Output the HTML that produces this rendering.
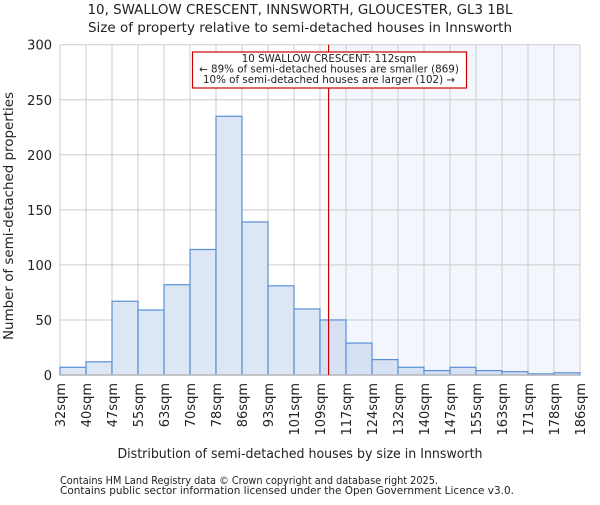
<!DOCTYPE html>
<html><head><meta charset="utf-8"><style>
body{margin:0;background:#fff}
text{font-family:"DejaVu Sans","Liberation Sans",sans-serif;fill:#222}
</style></head><body>
<svg id="chart" width="600" height="500" xmlns="http://www.w3.org/2000/svg">
<text x="300" y="14" text-anchor="middle" font-size="13" textLength="425" lengthAdjust="spacingAndGlyphs">10, SWALLOW CRESCENT, INNSWORTH, GLOUCESTER, GL3 1BL</text>
<text x="300" y="32" text-anchor="middle" font-size="13" textLength="424" lengthAdjust="spacingAndGlyphs">Size of property relative to semi-detached houses in Innsworth</text>
<g id="plot"></g>
<text x="300" y="458" text-anchor="middle" font-size="13" textLength="365" lengthAdjust="spacingAndGlyphs">Distribution of semi-detached houses by size in Innsworth</text>
<text transform="translate(13,216) rotate(-90)" text-anchor="middle" font-size="13" textLength="248" lengthAdjust="spacingAndGlyphs">Number of semi-detached properties</text>
<text x="60" y="484" font-size="10.5" fill="#555" textLength="378" lengthAdjust="spacingAndGlyphs">Contains HM Land Registry data © Crown copyright and database right 2025.</text>
<text x="60" y="494" font-size="10.5" fill="#555" textLength="454" lengthAdjust="spacingAndGlyphs">Contains public sector information licensed under the Open Government Licence v3.0.</text>
</svg>
<script>
const labels=["32sqm","40sqm","47sqm","55sqm","63sqm","70sqm","78sqm","86sqm","93sqm","101sqm","109sqm","117sqm","124sqm","132sqm","140sqm","147sqm","155sqm","163sqm","171sqm","178sqm","186sqm"];
const counts=[7,12,67,59,82,114,235,139,81,60,50,29,14,7,4,7,4,3,1,2];
const yTicks=[0,50,100,150,200,250,300];
const markerBin=10.33;
const X0=60,X1=580,Y0=375,Y1=44.7,YMAX=300;
const nb=counts.length;
const xs=i=>X0+(X1-X0)*i/nb;
const ys=v=>Y0-(Y0-Y1)*v/YMAX;
const ns="http://www.w3.org/2000/svg";
const g=document.getElementById('plot');
function mk(t,a,p){const e=document.createElementNS(ns,t);for(const k in a)e.setAttribute(k,a[k]);(p||g).appendChild(e);return e;}
const mx=xs(markerBin);
let sh=mk('rect',{x:mx,y:Y1,width:X1-mx,height:Y0-Y1,fill:'#f3f6fd'});


for(let i=0;i<=nb;i++){let l=mk('line',{x1:xs(i),x2:xs(i),y1:Y1,y2:Y0,stroke:'#ccc','stroke-width':1});

}
yTicks.forEach(v=>{let l=mk('line',{x1:X0,x2:X1,y1:ys(v),y2:ys(v),stroke:'#ccc','stroke-width':1});


let t=mk('text',{x:X0-8,y:ys(v)+5,'text-anchor':'end','font-size':13});t.textContent=v;

});
counts.forEach((c,i)=>{let r=mk('rect',{x:xs(i),y:ys(c),width:xs(i+1)-xs(i),height:Y0-ys(c),fill:i>=10?'#d6e1f3':'#dce6f4',stroke:'#5a8fd6','stroke-width':1.2});

});
labels.forEach((s,i)=>{let t=mk('text',{transform:`translate(${xs(i)+5},${Y0+8}) rotate(-90)`,'text-anchor':'end','font-size':13});t.textContent=s;

});
let ax=mk('line',{x1:X0,x2:X1,y1:Y0,y2:Y0,stroke:'#bbb','stroke-width':1.5});


let ml=mk('line',{x1:mx,x2:mx,y1:Y1,y2:Y0,stroke:'#cc0000','stroke-width':1.2});


let box=mk('rect',{x:192.5,y:52,width:274,height:36,fill:'#fff',stroke:'#cc0000','stroke-width':1.2});


["10 SWALLOW CRESCENT: 112sqm","← 89% of semi-detached houses are smaller (869)","10% of semi-detached houses are larger (102) →"].forEach((s,k)=>{let t=mk('text',{x:329,y:62+k*10.5,'text-anchor':'middle','font-size':10.3});t.textContent=s;

});
</script>
</body></html>
